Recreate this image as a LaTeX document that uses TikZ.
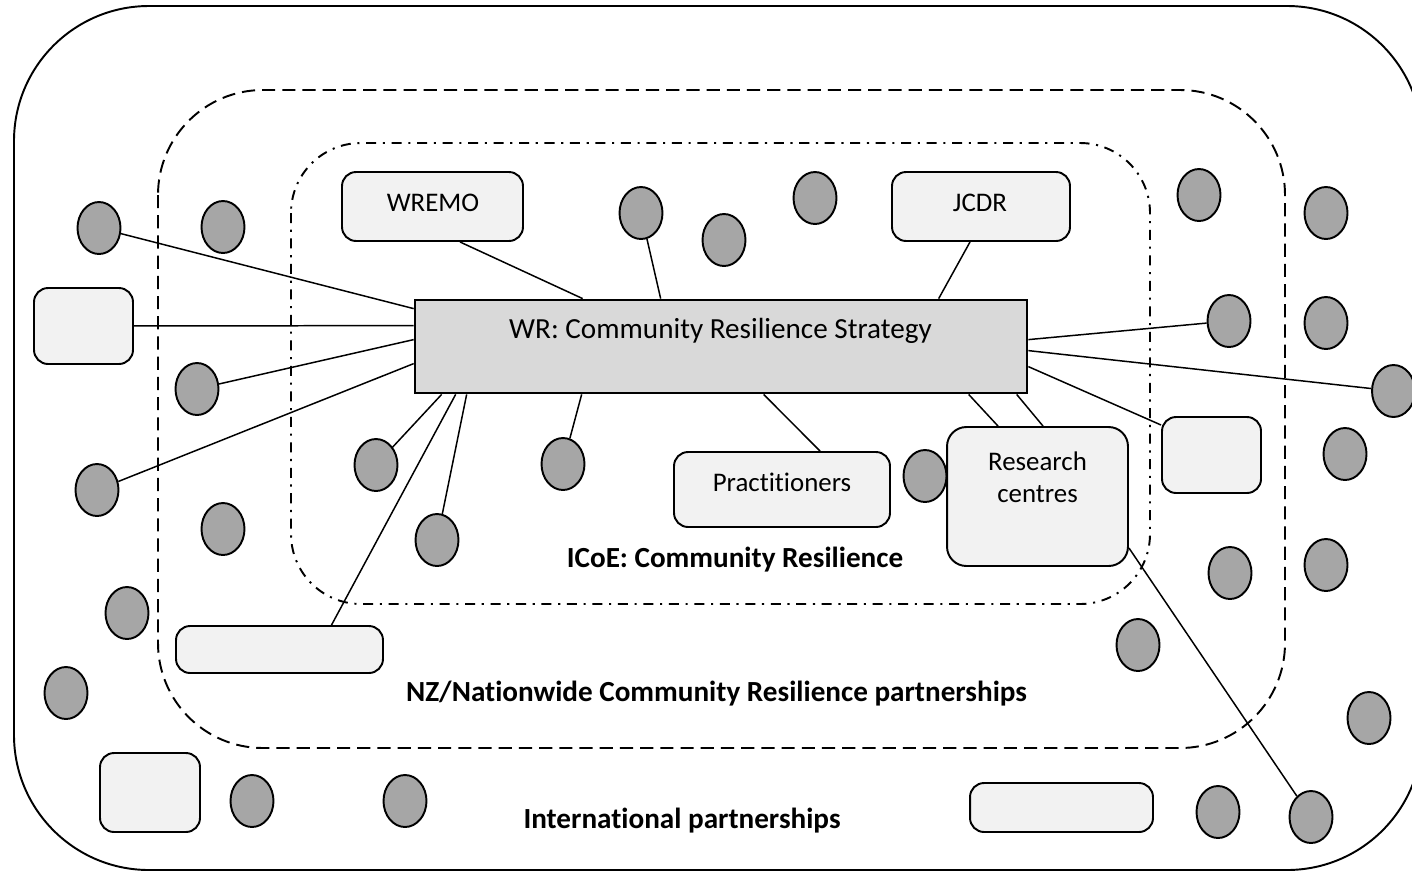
\documentclass[tikz,border=0pt]{standalone}
\usepackage{fontspec}
\setmainfont{Carlito}[Ligatures=NoCommon]
\usetikzlibrary{shapes.geometric,calc}
\definecolor{ellfill}{HTML}{A6A6A6}
\definecolor{boxfill}{HTML}{F2F2F2}
\definecolor{mainfill}{HTML}{D9D9D9}
\begin{document}
\begin{tikzpicture}[x=0.02cm,y=-0.02cm,
  blob/.style={ellipse, draw, line width=1.1pt, fill=ellfill, minimum width=0.86cm, minimum height=1.04cm, inner sep=0pt},
  pbox/.style={draw, line width=1.1pt, fill=boxfill, rounded corners=8pt, inner sep=0pt},
  link/.style={line width=0.85pt},
  lbl/.style={font=\fontsize{15.3}{18}\selectfont, inner sep=0pt},
  mlbl/.style={font=\fontsize{16.6}{19.5}\selectfont, inner sep=0pt},
  blbl/.style={font=\fontsize{16.6}{19.5}\selectfont\bfseries, inner sep=0pt}]
\useasboundingbox (0,0) rectangle (1412,873);
\fill[white] (0,0) rectangle (1412,873);
\clip (0,0) rectangle (1412,873);
% regions
\draw[line width=1.1pt, rounded corners=135*0.02cm] (14,6) rectangle (1422,870);
\draw[line width=1.1pt, dash pattern=on 7.5pt off 4pt, rounded corners=105*0.02cm] (158,90) rectangle (1285,748);
\draw[line width=1.1pt, dash pattern=on 5.7pt off 3.8pt on 1.2pt off 3.8pt, rounded corners=70*0.02cm] (291,143) rectangle (1150,604);
% main box
\node[draw, line width=1.6pt, fill=mainfill, minimum width=12.24cm, minimum height=1.86cm, inner sep=0pt] (main) at (721,346.5) {};
\node[mlbl] (maintxt) at (720.5,331) {WR: Community Resilience Strategy};
% boxes
\node[pbox, minimum width=3.62cm, minimum height=1.38cm] (wremo) at (432.5,206.5) {};
\node[lbl] (wremotxt) at (433,203) {WREMO};
\node[pbox, minimum width=3.56cm, minimum height=1.38cm] (jcdr) at (981,206.5) {};
\node[lbl] (jcdrtxt) at (980,203) {JCDR};
\node[pbox, minimum width=4.32cm, minimum height=1.5cm] (pract) at (782,489.5) {};
\node[lbl] (practtxt) at (782,482) {Practitioners};
\node[pbox, rounded corners=11pt, minimum width=3.62cm, minimum height=2.78cm] (research) at (1037.5,496.5) {};
\node[lbl, align=center] (researchtxt) at (1037.5,477) {Research\\centres};
\node[pbox, minimum width=1.98cm, minimum height=1.52cm] (lrect) at (83.5,326) {};
\node[pbox, minimum width=1.98cm, minimum height=1.52cm] (rrect) at (1211.5,455) {};
\node[pbox, minimum width=4.14cm, minimum height=0.94cm] (widea) at (279.5,649.5) {};
\node[pbox, minimum width=2cm, minimum height=1.58cm] (blrect) at (150,792.5) {};
\node[pbox, minimum width=3.66cm, minimum height=0.98cm] (wideb) at (1061.5,807.5) {};
% ellipses
\node[blob] (e1) at (99,228) {};
\node[blob] (e2) at (223,227) {};
\node[blob] (e3) at (641,213) {};
\node[blob] (e4) at (724,240) {};
\node[blob] (e5) at (815,198) {};
\node[blob] (e6) at (1199,195) {};
\node[blob] (e7) at (1326,213) {};
\node[blob] (e8) at (1229,321) {};
\node[blob] (e9) at (1326,323) {};
\node[blob] (e10) at (1393.5,391) {};
\node[blob] (e11) at (197,389) {};
\node[blob] (e12) at (97,490) {};
\node[blob] (e13) at (376,465) {};
\node[blob] (e14) at (563,464) {};
\node[blob] (e15) at (437,540) {};
\node[blob] (e16) at (223,529) {};
\node[blob] (e17) at (127,613) {};
\node[blob] (e18) at (925,476) {};
\node[blob] (e19) at (1345,454) {};
\node[blob] (e20) at (1230,573) {};
\node[blob] (e21) at (1326,565) {};
\node[blob] (e22) at (1138,645) {};
\node[blob] (e23) at (66,693) {};
\node[blob] (e24) at (1369,718) {};
\node[blob] (e25) at (252,801) {};
\node[blob] (e26) at (405,801) {};
\node[blob] (e27) at (1218,812) {};
\node[blob] (e28) at (1311,817) {};
% attachment points on the main box
\coordinate (mL1) at ($(main.north west)+(0,10)$);
\coordinate (mL2) at ($(main.north west)+(0,27)$);
\coordinate (mL3) at ($(main.north west)+(0,41)$);
\coordinate (mL4) at ($(main.north west)+(0,65)$);
\coordinate (mT1) at ($(main.north west)+(169,0)$);
\coordinate (mT2) at ($(main.north west)+(247,0)$);
\coordinate (mT3) at ($(main.north west)+(525,0)$);
\coordinate (mB1) at ($(main.south west)+(28,0)$);
\coordinate (mB2) at ($(main.south west)+(42,0)$);
\coordinate (mB3) at ($(main.south west)+(53,0)$);
\coordinate (mB4) at ($(main.south west)+(168,0)$);
\coordinate (mB5) at ($(main.south west)+(350,0)$);
\coordinate (mB6) at ($(main.south west)+(555,0)$);
\coordinate (mB7) at ($(main.south west)+(603,0)$);
\coordinate (mR1) at ($(main.north east)+(0,41)$);
\coordinate (mR2) at ($(main.north east)+(0,52)$);
\coordinate (mR3) at ($(main.north east)+(0,68)$);
% connectors
\draw[link] (e1) -- (mL1);
\draw[link] (lrect) -- (mL2);
\draw[link] (e11) -- (mL3);
\draw[link] (e12) -- (mL4);
\draw[link] ($(wremo.south)+(27.5,0)$) -- (mT1);
\draw[link] (e3) -- (mT2);
\draw[link] ($(jcdr.south)+(-11,0)$) -- (mT3);
\draw[link] (e13) -- (mB1);
\draw[link] ($(widea.north)+(52,0)$) -- (mB2);
\draw[link] (e15) -- (mB3);
\draw[link] (e14) -- (mB4);
\draw[link] ($(pract.north)+(38,0)$) -- (mB5);
\draw[link] ($(research.north)+(-39.5,0)$) -- (mB6);
\draw[link] ($(research.north)+(5.5,0)$) -- (mB7);
\draw[link] ($(rrect.west)+(0,-30)$) -- (mR3);
\draw[link] (e8) -- (mR1);
\draw[link] (e10) -- (mR2);
\draw[link] ($(research.east)+(0,51.5)$) -- (e28);
% region labels
\node[blbl] (icoe) at (735,560) {ICoE: Community Resilience};
\node[blbl] (nz) at (716.5,694) {NZ/Nationwide Community Resilience partnerships};
\node[blbl] (intl) at (682,821) {International partnerships};
\end{tikzpicture}
\end{document}
